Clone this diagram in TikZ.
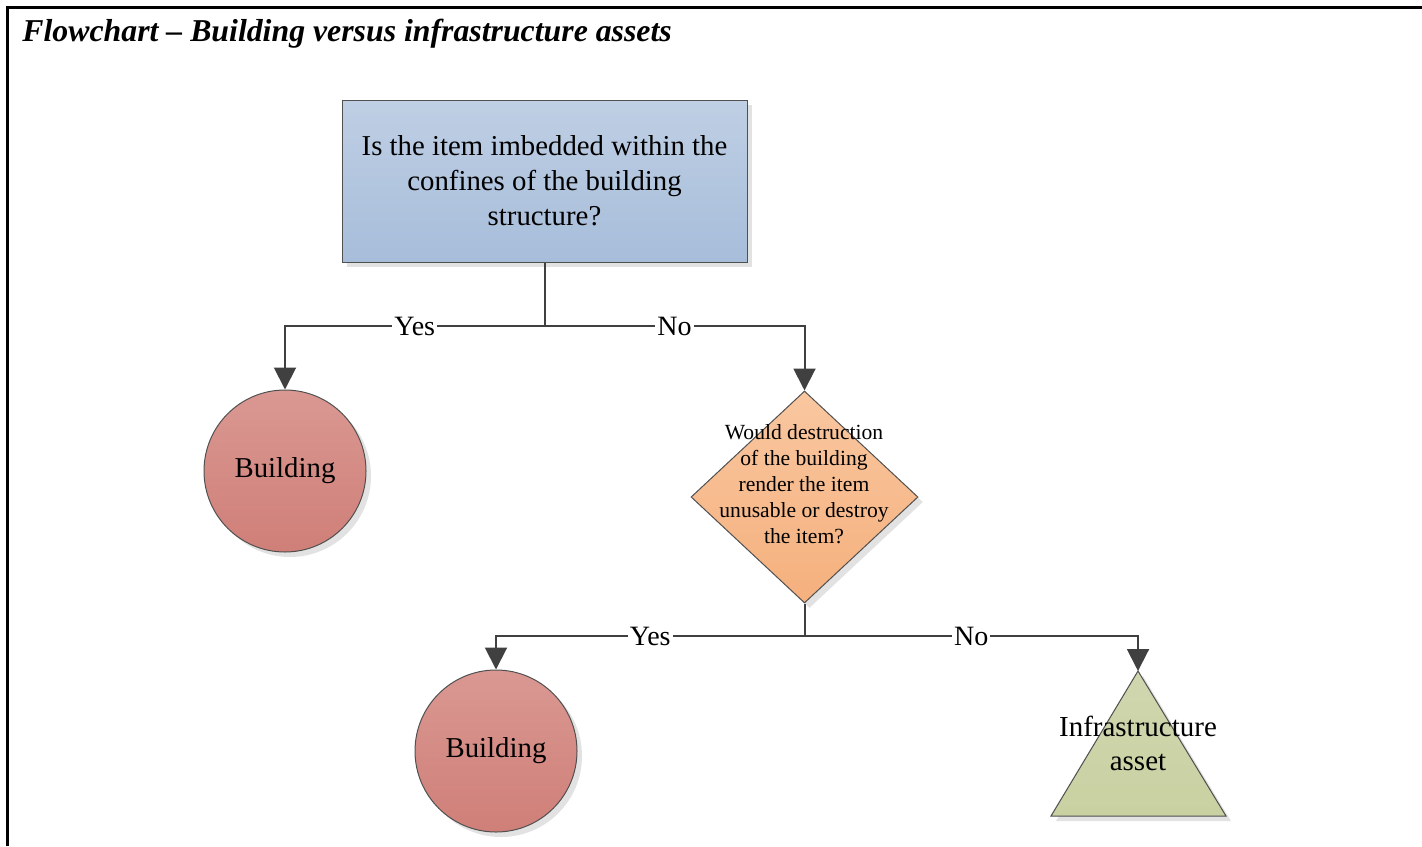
\documentclass[tikz,border=0pt]{standalone}
\usepackage{fontspec}
\setmainfont{Liberation Serif}
\usetikzlibrary{shapes.geometric,arrows.meta}
\definecolor{linegray}{HTML}{404040}
\definecolor{edgegray}{HTML}{505050}
\definecolor{shadowgray}{HTML}{E2E2E2}
\definecolor{boxtop}{HTML}{BFCFE4}
\definecolor{boxbot}{HTML}{A7BDDA}
\definecolor{redtop}{HTML}{DA9892}
\definecolor{redbot}{HTML}{CF7F78}
\definecolor{orgtop}{HTML}{F9C7A0}
\definecolor{orgbot}{HTML}{F5B07D}
\definecolor{grntop}{HTML}{D0D6AE}
\definecolor{grnbot}{HTML}{C9D1A2}
\tikzset{
  conn/.style={draw=linegray, line width=1pt},
  arr/.style={conn, -{Triangle[width=11pt,length=11pt]}},
  lbl/.style={fill=white, inner sep=1pt, font=\fontsize{14}{16}\selectfont},
  shad/.style={preaction={fill=shadowgray, transform canvas={shift={(2.5pt,-2.5pt)}}}},
  qbox/.style={shape=rectangle, draw=edgegray, line width=0.5pt, top color=boxtop, bottom color=boxbot,
    minimum width=202.5pt, minimum height=81pt, inner sep=0pt, align=center,
    font=\fontsize{14.4}{17.5}\selectfont, shad},
  bcircle/.style={shape=circle, draw=edgegray, line width=0.5pt, top color=redtop, bottom color=redbot,
    minimum size=81pt, inner sep=0pt, font=\fontsize{14.4}{16}\selectfont, shad},
  dshape/.style={shape=diamond, draw=edgegray, line width=0.5pt, top color=orgtop, bottom color=orgbot,
    minimum width=113.5pt, minimum height=106pt, inner sep=0pt, shad},
  dtext/.style={align=center, font=\fontsize{10.8}{13}\selectfont, inner sep=0pt},
  ttext/.style={align=center, font=\fontsize{14.5}{17}\selectfont, inner sep=0pt},
  frame/.style={draw=black, line width=1.5pt},
}
\begin{document}
\begin{tikzpicture}[x=0.5pt,y=-0.5pt]
\useasboundingbox (0,0) rectangle (1422,846);
\draw[frame] (7,846) -- (7,7) -- (1422,7);
\node[anchor=base west, font=\fontsize{15.9}{18}\selectfont\bfseries\itshape, inner sep=0pt] (title) at (22,41)
  {Flowchart – Building versus infrastructure assets};

\node[qbox] (q) at (544.5,181) {Is the item imbedded within the\\confines of the building\\structure?};
\node[bcircle] (b1) at (285,471) {\raisebox{-2pt}{Building}};
\node[dshape] (d) at (804.5,497) {};
\node[dtext] (dt) at (804,484) {Would destruction\\of the building\\render the item\\unusable or destroy\\the item?};
\node[bcircle] (b2) at (496,751) {\raisebox{-2pt}{Building}};

\path[shad, draw=edgegray, line width=0.5pt, top color=grntop, bottom color=grnbot]
  (1138,671) coordinate (tapex) -- (1226,816) coordinate (tr) -- (1051,816) coordinate (tl) -- cycle;
\node[ttext] (tt) at (1138,743) {Infrastructure\\asset};

\coordinate (j1) at (544.5,326);
\coordinate (j2) at (804.5,636);
\draw[conn] (q.south) -- (j1);
\draw[arr] (j1) -| node[lbl, pos=0.25] {Yes} (b1.north);
\draw[arr] (j1) -| node[lbl, pos=0.25] {No} (d.north);
\draw[conn] (d.south) -- (j2);
\draw[arr] (j2) -| node[lbl, pos=0.25] {Yes} (b2.north);
\draw[arr] (j2) -| node[lbl, pos=0.25] {No} (tapex);
\end{tikzpicture}
\end{document}
